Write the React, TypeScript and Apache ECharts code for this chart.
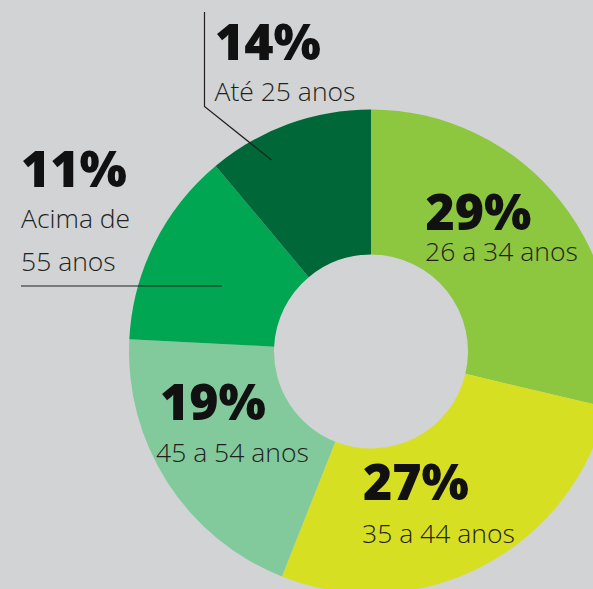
import React, { useEffect, useRef } from "react";
import * as echarts from "echarts";

// Age groups, in the clockwise order of the ring, starting at 12 o'clock
const categories = ["26 a 34 anos", "35 a 44 anos", "45 a 54 anos", "Acima de\n55 anos", "Até 25 anos"];
// Percentages printed on the chart
const printedShares = [29, 27, 19, 11, 14];
// Arc sizes as drawn in the picture (share of the full ring)
const sliceValues = [28.7, 27.3, 19.8, 13.1, 11.1];
const sliceColors = ["#8dc63f", "#d7df23", "#82ca9c", "#00a651", "#006838"];

// Layout of each label block: [x of percentage, y of percentage centre, x of category, y of category centre]
const labelLayout: [number, number, number, number][] = [
  [425.5, 211, 425, 251],
  [363, 481, 362, 532.5],
  [160, 401, 156, 451.5],
  [21, 167.5, 21, 239.5],
  [215, 41, 214.5, 90.5],
];

const FONT = '"Open Sans", "Noto Sans", sans-serif';
const INK = "#231f20";

export default function App() {
  const ref = useRef<HTMLDivElement>(null);
  useEffect(() => {
    if (!ref.current) return;
    const chart = echarts.init(ref.current, undefined, { renderer: "svg" });
    const texts: any[] = [];
    categories.forEach((c, i) => {
      const [px, py, cx, cy] = labelLayout[i];
      texts.push({
        type: "text",
        x: px,
        y: py,
        z: 10,
        style: {
          text: printedShares[i] + "%",
          fontFamily: FONT,
          fontSize: 50,
          fontWeight: 800,
          lineHeight: 34,
          fill: "#111111",
          textAlign: "left",
          textVerticalAlign: "middle",
        },
      });
      texts.push({
        type: "text",
        x: cx,
        y: cy,
        z: 10,
        style: {
          text: c,
          fontFamily: FONT,
          fontSize: 26.5,
          fontWeight: 300,
          lineHeight: 43,
          fill: INK,
          textAlign: "left",
          textVerticalAlign: "middle",
        },
      });
    });
    chart.setOption({
      animation: false,
      backgroundColor: "#d1d3d4",
      series: [
        {
          type: "pie",
          center: [371, 351.5],
          radius: [97, 242],
          startAngle: 90,
          clockwise: true,
          silent: true,
          label: { show: false },
          labelLine: { show: false },
          itemStyle: { borderWidth: 0 },
          emphasis: { disabled: true },
          data: categories.map((c, i) => ({
            name: c,
            value: sliceValues[i],
            itemStyle: { color: sliceColors[i] },
          })),
        },
      ],
      graphic: [
        {
          type: "polyline",
          z: 10,
          shape: { points: [[204.5, 12], [204.5, 106.5], [271.5, 160]] },
          style: { stroke: INK, lineWidth: 1.2, fill: "none" },
        },
        {
          type: "line",
          z: 10,
          shape: { x1: 21, y1: 286, x2: 222, y2: 286 },
          style: { stroke: INK, lineWidth: 1.2 },
        },
        ...texts,
      ],
    });
    return () => chart.dispose();
  }, []);
  return (
    <div
      ref={ref}
      style={{ position: "absolute", left: 0, top: 0, width: 593, height: 589 }}
    />
  );
}
